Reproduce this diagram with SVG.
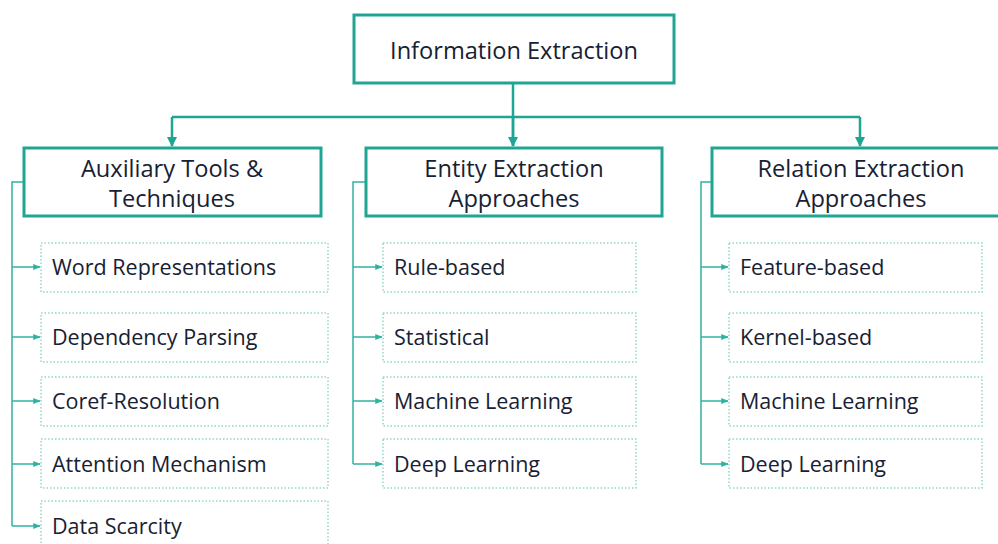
<svg xmlns="http://www.w3.org/2000/svg" width="998" height="544" viewBox="0 0 998 544">
  <style>
    .main { fill: #ffffff; stroke: #1fa593; stroke-width: 3; }
    .leaf { fill: #ffffff; stroke: #8fd8cd; stroke-width: 1.5; stroke-dasharray: 1.5 2; }
    .hd { font-family: "Open Sans", Lato, sans-serif; font-size: 23.6px; font-weight: 500; fill: #172133; text-anchor: middle; }
    .lf { font-family: "Open Sans", Lato, sans-serif; font-size: 21.5px; font-weight: 500; fill: #172133; }
    .trunk { fill: none; stroke: #1fa593; stroke-width: 2.5; }
    .twig { fill: none; stroke: #2fb3a1; stroke-width: 1.5; }
  </style>
  <defs>
    <marker id="big" viewBox="0 0 10 10" refX="9" refY="5" markerWidth="4" markerHeight="4" orient="auto" markerUnits="strokeWidth">
      <path d="M0,0 L10,5 L0,10 z" fill="#1fa593"/>
    </marker>
    <marker id="small" viewBox="0 0 10 10" refX="9" refY="5" markerWidth="5" markerHeight="5" orient="auto" markerUnits="strokeWidth">
      <path d="M0,1 L10,5 L0,9 z" fill="#2fb3a1"/>
    </marker>
  </defs>

  <g id="connectors">
    <path class="trunk" d="M513,83 V146"/>
    <path class="trunk" d="M172,117 H860"/>
    <path class="trunk" d="M172,117 V146" marker-end="url(#big)"/>
    <path class="trunk" d="M513,117 V146" marker-end="url(#big)"/>
    <path class="trunk" d="M860,117 V146" marker-end="url(#big)"/>
    <!-- left column -->
    <path class="twig" d="M24,182 H12 V526"/>
    <path class="twig" d="M12,267 H40" marker-end="url(#small)"/>
    <path class="twig" d="M12,337 H40" marker-end="url(#small)"/>
    <path class="twig" d="M12,401 H40" marker-end="url(#small)"/>
    <path class="twig" d="M12,464 H40" marker-end="url(#small)"/>
    <path class="twig" d="M12,526 H40" marker-end="url(#small)"/>
    <!-- middle column -->
    <path class="twig" d="M366,182 H353 V464"/>
    <path class="twig" d="M353,267 H382" marker-end="url(#small)"/>
    <path class="twig" d="M353,337 H382" marker-end="url(#small)"/>
    <path class="twig" d="M353,401 H382" marker-end="url(#small)"/>
    <path class="twig" d="M353,464 H382" marker-end="url(#small)"/>
    <!-- right column -->
    <path class="twig" d="M712,182 H701 V464"/>
    <path class="twig" d="M701,267 H728" marker-end="url(#small)"/>
    <path class="twig" d="M701,337 H728" marker-end="url(#small)"/>
    <path class="twig" d="M701,401 H728" marker-end="url(#small)"/>
    <path class="twig" d="M701,464 H728" marker-end="url(#small)"/>
  </g>

  <g id="information-extraction">
    <rect class="main" x="354" y="15" width="320" height="68"/>
    <text class="hd" x="514" y="59">Information Extraction</text>
  </g>

  <g id="auxiliary-tools">
    <rect class="main" x="24" y="148" width="297" height="68"/>
    <text class="hd" x="172" y="177">Auxiliary Tools &amp;</text>
    <text class="hd" x="172" y="207">Techniques</text>
  </g>
  <g id="entity-extraction">
    <rect class="main" x="366" y="148" width="296" height="68"/>
    <text class="hd" x="514" y="177">Entity Extraction</text>
    <text class="hd" x="514" y="207">Approaches</text>
  </g>
  <g id="relation-extraction">
    <rect class="main" x="712" y="148" width="300" height="68"/>
    <text class="hd" x="861" y="177">Relation Extraction</text>
    <text class="hd" x="861" y="207">Approaches</text>
  </g>

  <!-- auxiliary leaves -->
  <g id="word-representations">
    <rect class="leaf" x="41" y="243" width="287" height="49"/>
    <text class="lf" x="52" y="275">Word Representations</text>
  </g>
  <g id="dependency-parsing">
    <rect class="leaf" x="41" y="313" width="287" height="49"/>
    <text class="lf" x="52" y="345">Dependency Parsing</text>
  </g>
  <g id="coref-resolution">
    <rect class="leaf" x="41" y="377" width="287" height="49"/>
    <text class="lf" x="52" y="409">Coref-Resolution</text>
  </g>
  <g id="attention-mechanism">
    <rect class="leaf" x="41" y="439" width="287" height="49"/>
    <text class="lf" x="52" y="472">Attention Mechanism</text>
  </g>
  <g id="data-scarcity">
    <rect class="leaf" x="41" y="501" width="287" height="49"/>
    <text class="lf" x="52" y="534">Data Scarcity</text>
  </g>

  <!-- entity leaves -->
  <g id="rule-based">
    <rect class="leaf" x="383" y="243" width="253" height="49"/>
    <text class="lf" x="394" y="275">Rule-based</text>
  </g>
  <g id="statistical">
    <rect class="leaf" x="383" y="313" width="253" height="49"/>
    <text class="lf" x="394" y="345">Statistical</text>
  </g>
  <g id="entity-machine-learning">
    <rect class="leaf" x="383" y="377" width="253" height="49"/>
    <text class="lf" x="394" y="409">Machine Learning</text>
  </g>
  <g id="entity-deep-learning">
    <rect class="leaf" x="383" y="439" width="253" height="49"/>
    <text class="lf" x="394" y="472">Deep Learning</text>
  </g>

  <!-- relation leaves -->
  <g id="feature-based">
    <rect class="leaf" x="729" y="243" width="253" height="49"/>
    <text class="lf" x="740" y="275">Feature-based</text>
  </g>
  <g id="kernel-based">
    <rect class="leaf" x="729" y="313" width="253" height="49"/>
    <text class="lf" x="740" y="345">Kernel-based</text>
  </g>
  <g id="relation-machine-learning">
    <rect class="leaf" x="729" y="377" width="253" height="49"/>
    <text class="lf" x="740" y="409">Machine Learning</text>
  </g>
  <g id="relation-deep-learning">
    <rect class="leaf" x="729" y="439" width="253" height="49"/>
    <text class="lf" x="740" y="472">Deep Learning</text>
  </g>
</svg>
